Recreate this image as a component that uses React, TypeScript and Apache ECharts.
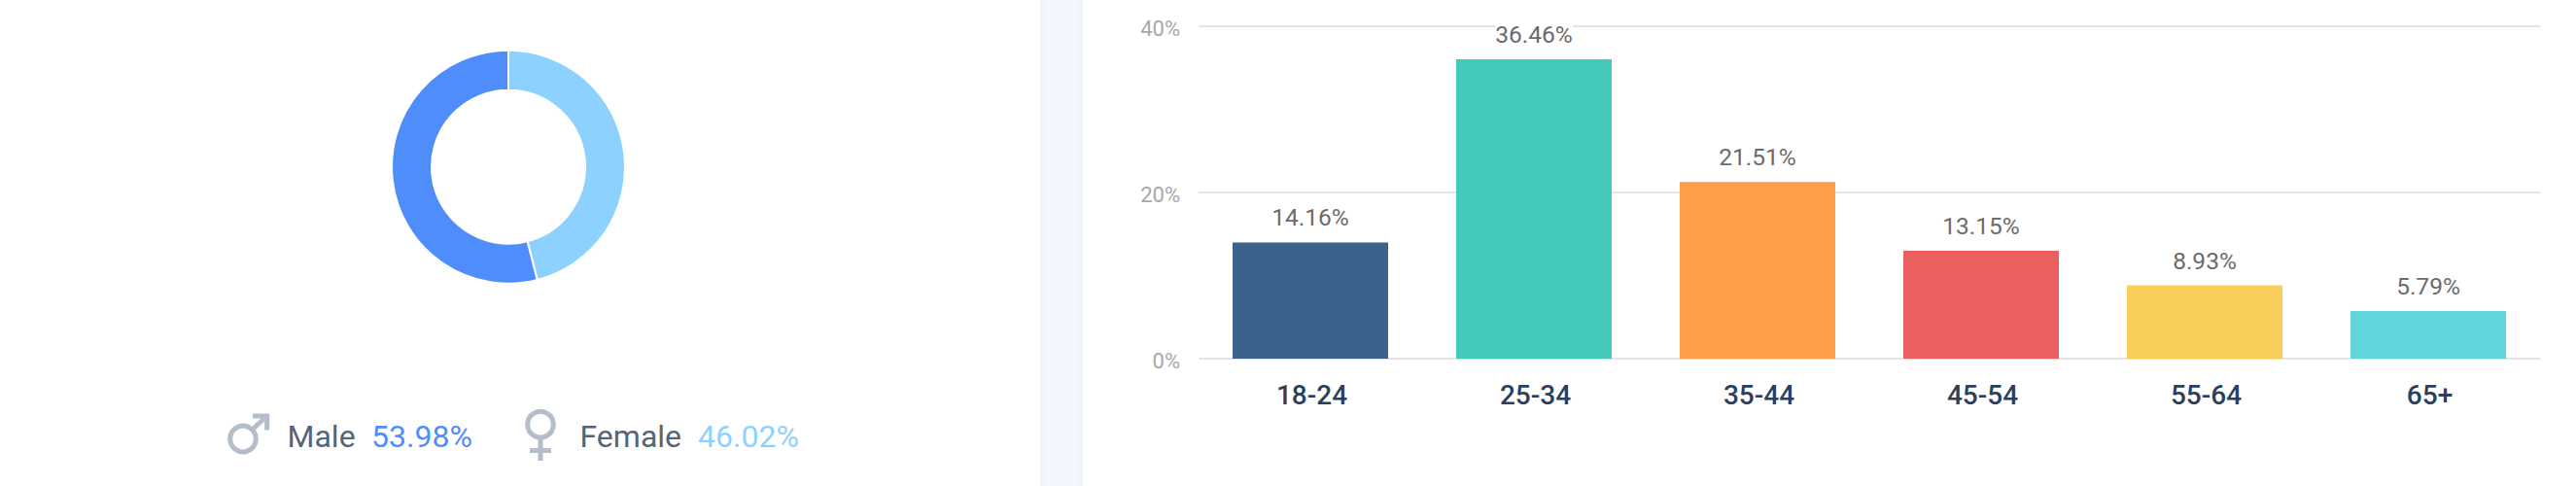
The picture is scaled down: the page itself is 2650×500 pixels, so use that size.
import React, { useEffect, useRef } from "react";
import * as echarts from "echarts";

const genders = ["Female", "Male"];
const genderValues = [46.02, 53.98];
const genderColors = ["#8dd2ff", "#4f8dfb"];

const ageCategories = ["18-24", "25-34", "35-44", "45-54", "55-64", "65+"];
const ageValues = [14.16, 36.46, 21.51, 13.15, 8.93, 5.79];
const ageColors = ["#3a638c", "#42c9b9", "#ff9d48", "#eb5f5f", "#f8cf5b", "#61d5dc"];

const FONT = "Roboto";
const ICON = "#b5bdcb";
const LEGEND_TEXT = "#566476";

const pct = (v: number) => v.toFixed(2) + "%";

function legendText(x: number, text: string, fill: string, size: number, weight: number) {
  return {
    type: "text",
    x,
    y: 449,
    silent: true,
    style: { text, fill, font: `${weight} ${size}px ${FONT}`, textAlign: "left", verticalAlign: "middle" },
  };
}

export default function App() {
  const ref = useRef<HTMLDivElement>(null);

  useEffect(() => {
    document.body.style.margin = "0";
    const chart = echarts.init(ref.current!, undefined, { renderer: "svg" });
    const iconLine = { stroke: ICON, lineWidth: 5, fill: "none" };
    chart.setOption({
      animation: false,
      backgroundColor: "#ffffff",
      graphic: [
        {
          type: "rect",
          silent: true,
          z: -1,
          shape: { x: 1070, y: 0, width: 44, height: 500 },
          style: {
            fill: new echarts.graphic.LinearGradient(0, 0, 1, 0, [
              { offset: 0, color: "#eef2f9" },
              { offset: 0.15, color: "#f3f6fc" },
              { offset: 0.85, color: "#f3f6fc" },
              { offset: 1, color: "#eef2f9" },
            ]),
          },
        },
        { type: "circle", silent: true, shape: { cx: 250, cy: 451.5, r: 13.3 }, style: iconLine },
        { type: "line", silent: true, shape: { x1: 259.5, y1: 442, x2: 275, y2: 427.5 }, style: iconLine },
        { type: "polyline", silent: true, shape: { points: [[260, 428], [274.7, 428], [274.7, 442.6]] }, style: iconLine },
        legendText(295.5, "Male", LEGEND_TEXT, 32, 400),
        legendText(382, pct(genderValues[1]), genderColors[1], 32, 400),
        { type: "circle", silent: true, shape: { cx: 556, cy: 436.7, r: 13.3 }, style: iconLine },
        { type: "line", silent: true, shape: { x1: 556, y1: 450, x2: 556, y2: 474 }, style: iconLine },
        { type: "line", silent: true, shape: { x1: 545, y1: 463.5, x2: 567, y2: 463.5 }, style: iconLine },
        legendText(596.5, "Female", LEGEND_TEXT, 32, 400),
        legendText(718, pct(genderValues[0]), genderColors[0], 32, 400),
      ],
      grid: { left: 1233, top: 27, width: 1380, height: 342, containLabel: false },
      xAxis: {
        type: "category",
        data: ageCategories,
        axisTick: { show: false },
        axisLine: { show: false },
        axisLabel: { color: "#2a405b", fontFamily: FONT, fontSize: 28, fontWeight: 500, margin: 23, padding: [0, 0, 0, 3] },
      },
      yAxis: [
        {
          type: "value",
          min: 0,
          max: 40,
          interval: 20,
          axisLine: { show: false },
          axisTick: { show: false },
          splitLine: { lineStyle: { color: "#e4e4e4", width: 2 } },
          axisLabel: {
            formatter: (v: number) => v + "%",
            color: "#a8a8a8",
            fontFamily: FONT,
            fontSize: 22,
            margin: 19,
            verticalAlign: "top",
            lineHeight: 22,
            padding: [-9, 0, 0, 0],
          },
        },
        { type: "value", min: 0, max: 40.5, show: false, splitLine: { show: false } },
      ],
      series: [
        {
          type: "bar",
          yAxisIndex: 1,
          barWidth: 160,
          data: ageValues.map((value, i) => ({ value, itemStyle: { color: ageColors[i] } })),
          label: {
            show: true,
            position: "top",
            distance: 13,
            formatter: (p: any) => pct(p.value),
            color: "#6b6b6b",
            fontFamily: FONT,
            fontSize: 24.5,
            backgroundColor: "#ffffff",
          },
        },
        {
          type: "pie",
          center: [523, 171.7],
          radius: [79, 120],
          startAngle: 90,
          clockwise: true,
          silent: true,
          label: { show: false },
          labelLine: { show: false },
          itemStyle: { borderColor: "#ffffff", borderWidth: 2 },
          data: genders.map((name, i) => ({ name, value: genderValues[i], itemStyle: { color: genderColors[i] } })),
        },
      ],
    });
    return () => chart.dispose();
  }, []);

  return <div ref={ref} style={{ position: "absolute", left: 0, top: 0, width: 2650, height: 500 }} />;
}
